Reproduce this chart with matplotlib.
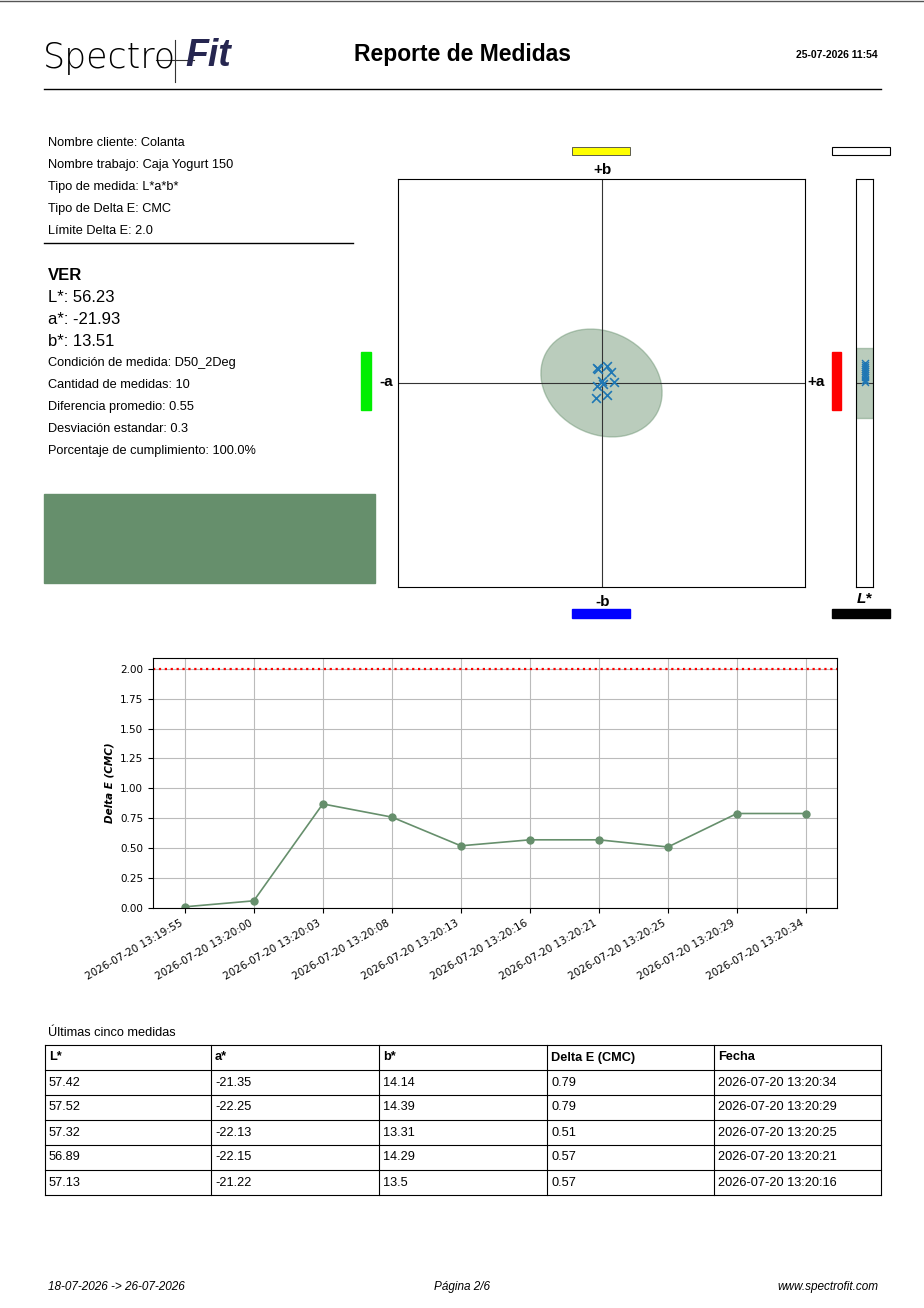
import matplotlib
matplotlib.use("Agg")
import matplotlib.pyplot as plt
from matplotlib.patches import Ellipse, Rectangle
import numpy as np

plt.rcParams['font.family'] = ['Liberation Sans', 'DejaVu Sans']
W, H = 924, 1308
fig = plt.figure(figsize=(W/100, H/100), dpi=100)

def ax_px(x0, y0, x1, y1, **kw):
    return fig.add_axes([x0/W, 1-y1/H, (x1-x0)/W, (y1-y0)/H], **kw)

def tx(x, y, s, **kw):
    fig.text(x/W, 1-y/H, s, **kw)

# ---- data ----
client_info = ["Nombre cliente: Colanta", "Nombre trabajo: Caja Yogurt 150",
               "Tipo de medida: L*a*b*", "Tipo de Delta E: CMC", "Límite Delta E: 2.0"]
ref_L, ref_a, ref_b = 56.23, -21.93, 13.51
stats = ["Condición de medida: D50_2Deg", "Cantidad de medidas: 10",
         "Diferencia promedio: 0.55", "Desviación estandar: 0.3",
         "Porcentaje de cumplimiento: 100.0%"]
meas_a = [-22.13, -21.64, -21.44, -21.93, -21.34, -22.13, -22.18, -21.64, -22.08, -21.88]
meas_b = [14.25, 14.34, 14.05, 13.61, 13.56, 13.36, 12.77, 12.92, 14.21, 13.46]
meas_L = [57.0, 57.1, 56.9, 56.7, 56.5, 56.3, 57.2, 56.8, 56.6, 56.4]
times = ["2026-07-20 13:19:55", "2026-07-20 13:20:00", "2026-07-20 13:20:03",
         "2026-07-20 13:20:08", "2026-07-20 13:20:13", "2026-07-20 13:20:16",
         "2026-07-20 13:20:21", "2026-07-20 13:20:25", "2026-07-20 13:20:29",
         "2026-07-20 13:20:34"]
delta_e = [0.01, 0.06, 0.87, 0.76, 0.52, 0.57, 0.57, 0.51, 0.79, 0.79]
limit = 2.0
table_header = ["L*", "a*", "b*", "Delta E (CMC)", "Fecha"]
table_rows = [["57.42", "-21.35", "14.14", "0.79", "2026-07-20 13:20:34"],
              ["57.52", "-22.25", "14.39", "0.79", "2026-07-20 13:20:29"],
              ["57.32", "-22.13", "13.31", "0.51", "2026-07-20 13:20:25"],
              ["56.89", "-22.15", "14.29", "0.57", "2026-07-20 13:20:21"],
              ["57.13", "-21.22", "13.5", "0.57", "2026-07-20 13:20:16"]]
green = "#668f6c"
BODY = 9.2

# ---- header ----
bg = ax_px(0, 0, W, H); bg.set_xlim(0, W); bg.set_ylim(H, 0); bg.axis("off")
bg.plot([0, W], [1, 1], color="#555", lw=1)
bg.plot([44, 881], [89, 89], color="black", lw=1)
bg.plot([44, 353], [243, 243], color="black", lw=1)
tx(43, 58, "Spectro", fontsize=25, va="center", fontfamily="DejaVu Sans", fontweight="light")
tx(185, 56, "Fit", fontsize=27, va="center", fontweight="bold", style="italic", color="#262650")
bg.plot([156, 194], [60, 60], color="#333", lw=0.8)
bg.plot([175, 175], [40, 82], color="#333", lw=0.8)
tx(462, 55, "Reporte de Medidas", fontsize=16.5, fontweight="bold", ha="center", va="center")
tx(878, 55, "25-07-2026 11:54", fontsize=7.5, fontweight="bold", ha="right", va="center")

for i, s in enumerate(client_info):
    tx(48, 143 + 22*i, s, fontsize=BODY, va="center")
tx(48, 275, "VER", fontsize=12, fontweight="bold", va="center")
tx(48, 297, f"L*: {ref_L}", fontsize=12, va="center")
tx(48, 319, f"a*: {ref_a}", fontsize=12, va="center")
tx(48, 341, f"b*: {ref_b}", fontsize=12, va="center")
for i, s in enumerate(stats):
    tx(48, 363 + 22*i, s, fontsize=BODY, va="center")
bg.add_patch(Rectangle((44, 494), 331, 89, color=green))

# color bars
bg.add_patch(Rectangle((572, 147), 58, 8, facecolor="yellow", edgecolor="#444", lw=0.6))
bg.add_patch(Rectangle((572, 609), 58, 9, color="blue"))
bg.add_patch(Rectangle((361, 352), 10, 58, color="#00ee00"))
bg.add_patch(Rectangle((832, 352), 9, 58, color="red"))
bg.add_patch(Rectangle((832, 147), 58, 8, facecolor="white", edgecolor="black", lw=0.8))
bg.add_patch(Rectangle((832, 609), 58, 9, color="black"))
tx(603, 170, "+b", fontsize=11, fontweight="bold", ha="center", va="center")
tx(603, 602, "-b", fontsize=11, fontweight="bold", ha="center", va="center")
tx(386, 382, "-a", fontsize=11, fontweight="bold", ha="center", va="center")
tx(816, 382, "+a", fontsize=11, fontweight="bold", ha="center", va="center")
tx(864, 599, "L*", fontsize=11, fontweight="bold", style="italic", ha="center", va="center")

# ---- a*b* plot ----
R = 10
ax = ax_px(398, 179, 805, 587)
ax.set_xlim(ref_a - R, ref_a + R); ax.set_ylim(ref_b - R, ref_b + R)
ax.set_xticks([]); ax.set_yticks([])
ax.axhline(ref_b, color="#333", lw=0.8); ax.axvline(ref_a, color="#333", lw=0.8)
ax.add_patch(Ellipse((ref_a, ref_b), 6.2, 5.0, angle=-28, facecolor=green, alpha=0.45,
                     edgecolor=green, zorder=1))
ax.scatter(meas_a, meas_b, marker="x", color="#1f77b4", s=40, lw=1.2, zorder=3)

# ---- L bar ----
axl = ax_px(856, 179, 873, 587)
axl.set_xlim(-1, 1); axl.set_ylim(ref_L - R, ref_L + R)
axl.set_xticks([]); axl.set_yticks([])
axl.axhline(ref_L, color="#333", lw=0.8)
axl.axhspan(ref_L - 1.7, ref_L + 1.7, color=green, alpha=0.45)
axl.scatter([0]*len(meas_L), meas_L, marker="x", color="#1f77b4", s=25, lw=1.0, zorder=3)

# ---- line chart ----
ax2 = ax_px(153, 658, 837, 908)
x = np.arange(len(delta_e))
ax2.plot(x, delta_e, color=green, marker="o", ms=5, lw=1.2)
ax2.axhline(limit, color="red", ls=":", lw=1.6)
ax2.set_ylim(0, 2.09); ax2.set_xlim(-0.46, 9.45)
ax2.set_yticks(np.arange(0, 2.01, 0.25))
ax2.set_yticklabels([f"{v:.2f}" for v in np.arange(0, 2.01, 0.25)], fontsize=7.5,
                    fontfamily="DejaVu Sans")
ax2.set_xticks(x)
ax2.set_xticklabels(times, rotation=30, ha="right", fontsize=7.5, fontfamily="DejaVu Sans")
ax2.grid(True, color="#bbb", lw=0.8)
ax2.set_ylabel("Delta E (CMC)", fontsize=7.5, fontweight="bold", style="italic",
               fontfamily="DejaVu Sans")

# ---- table ----
tx(48, 1033, "Últimas cinco medidas", fontsize=BODY, va="center")
cols = [45, 211, 379, 547, 714, 881]
rows_y = [1045 + 25*i for i in range(7)]
for yy in rows_y:
    bg.plot([cols[0], cols[-1]], [yy, yy], color="black", lw=0.8)
for xx in cols:
    bg.plot([xx, xx], [rows_y[0], rows_y[-1]], color="black", lw=0.8)
for j, h in enumerate(table_header):
    tx(cols[j] + 4, rows_y[0] + 12.5, h, fontsize=BODY, fontweight="bold", va="center")
for i, r in enumerate(table_rows):
    for j, v in enumerate(r):
        tx(cols[j] + 4, rows_y[i+1] + 12.5, v, fontsize=BODY, va="center")

# ---- footer ----
tx(48, 1287, "18-07-2026 -> 26-07-2026", fontsize=8.5, style="italic", va="center")
tx(462, 1287, "Página 2/6", fontsize=8.5, style="italic", ha="center", va="center")
tx(878, 1287, "www.spectrofit.com", fontsize=8.5, style="italic", ha="right", va="center")

fig.savefig("out.png", dpi=100)
